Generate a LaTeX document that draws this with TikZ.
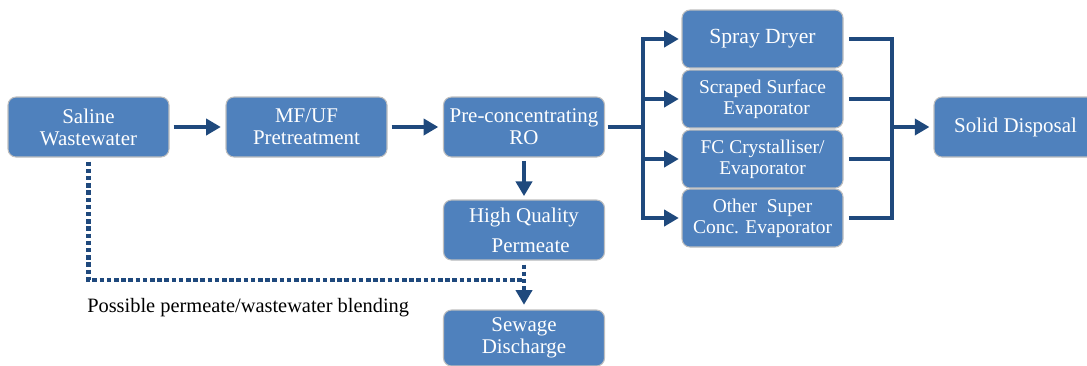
\documentclass[tikz,border=0pt]{standalone}
\usepackage{fontspec}
\setmainfont{Liberation Serif}
\usetikzlibrary{arrows.meta}
\definecolor{boxblue}{HTML}{4F81BD}
\definecolor{arrblue}{HTML}{1F497D}
\definecolor{boxline}{HTML}{BFBFBF}
\begin{document}
\begin{tikzpicture}[x=0.75pt,y=-0.75pt,
  box/.style={draw=boxline, line width=0.8pt, fill=boxblue, rounded corners=6pt,
    text=white, align=center, inner sep=0pt, minimum width=120.75pt, minimum height=45pt,
    font=\fontsize{15.7}{16.5}\selectfont},
  sbox/.style={box, minimum height=43.5pt, font=\fontsize{14.6}{15.5}\selectfont},
  link/.style={draw=arrblue, line width=3.6pt},
  arr/.style={link, -{Triangle[length=11pt,width=12pt]}},
  dotline/.style={draw=arrblue, line width=3.4pt, dash pattern=on 3.4pt off 2pt},
  lbl/.style={font=\fontsize{15.3}{16}\selectfont, inner sep=0pt}
]
\useasboundingbox (0,0) rectangle (1087,365);
\clip (0,0) rectangle (1087,365);

% nodes
\node[box] (saline) at (88.5,127) {Saline\\Wastewater};
\node[box] (mf) at (306.5,127) {MF/UF\\Pretreatment};
\node[box] (ro) at (524,127) {Pre-concentrating\\RO};
\node[box] (hq) at (524,230) {High Quality\\[6pt]\hspace*{10pt}Permeate};
\node[box, minimum height=42pt] (sew) at (524,338) {Sewage\\Discharge};
\node[sbox, font=\fontsize{16.2}{17}\selectfont] (spray) at (762.5,39) {Spray Dryer};
\node[sbox] (scr) at (762.5,99) {Scraped Surface\\\hspace*{6pt}Evaporator};
\node[sbox] (fc) at (762.5,159) {FC Crystalliser/\\Evaporator};
\node[sbox] (oth) at (762.5,218) {Other\ \ Super\\Conc. Evaporator};
\node[box, minimum width=122.25pt] (solid) at (1015.5,127) {Solid Disposal};
\node[lbl, anchor=west] (blendlbl) at (87,308) {Possible permeate/wastewater blending};

\coordinate (bl) at (643,127);
\coordinate (br) at (892,127);
\coordinate (blend) at (524,280);

% main flow
\draw[arr, shorten <=3pt, shorten >=3.5pt] (saline) -- (mf);
\draw[arr, shorten <=3pt, shorten >=3.5pt] (mf) -- (ro);
\draw[arr, shorten <=2.5pt, shorten >=2.5pt] (ro) -- (hq);

% left bus
\draw[link] ([xshift=2pt]ro.east) -- (bl);
\draw[link, line cap=rect] (spray.west -| bl) -- (oth.west -| bl);
\foreach \n in {spray,scr,fc,oth}
  \draw[arr, shorten >=2pt] (\n.west -| bl) -- (\n.west);

% right bus
\foreach \n in {spray,scr,fc,oth}
  \draw[link] ([xshift=4pt]\n.east) -- (\n.east -| br);
\draw[link, line cap=rect] (spray.east -| br) -- (oth.east -| br);
\draw[arr, shorten >=3pt] (br) -- (solid);

% blending (dotted)
\draw[dotline] ([yshift=-3pt]saline.south) -- (saline.south |- blend) -- (blend);
\draw[dotline, -{Triangle[length=11pt,width=12pt]}, shorten >=3.5pt] ([yshift=-3pt]hq.south) -- (sew.north);
\end{tikzpicture}
\end{document}
